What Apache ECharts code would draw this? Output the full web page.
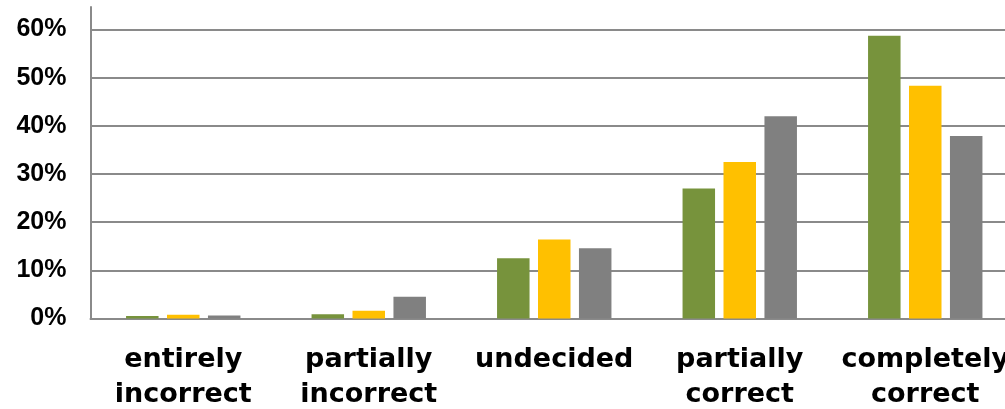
<!DOCTYPE html>
<html>
<head>
<meta charset="utf-8">
<script src="https://cdn.jsdelivr.net/npm/echarts@6/dist/echarts.min.js"></script>
<style>
html,body{margin:0;padding:0;background:#fff;}
#chart{width:1005px;height:409px;}
</style>
</head>
<body>
<div id="chart"></div>
<script>
const categories = ['entirely\nincorrect', 'partially\nincorrect', 'undecided', 'partially\ncorrect', 'completely\ncorrect'];
const seriesGreen = [0.5, 0.9, 12.5, 27.0, 58.7];
const seriesYellow = [0.8, 1.6, 16.4, 32.5, 48.3];
const seriesGray = [0.6, 4.5, 14.6, 42.0, 37.9];
const yTicks = { min: 0, max: 60, interval: 10 };

const chart = echarts.init(document.getElementById('chart'), null, { renderer: 'canvas' });
const fontY = '"Liberation Sans", Arial, sans-serif';
const fontX = '"DejaVu Sans", "Liberation Sans", sans-serif';
const gridColor = '#8a8a8a';

const option = {
  animation: false,
  backgroundColor: '#ffffff',
  grid: [
    { left: 90.5, width: 927.5, top: 29.5, bottom: 90.5, containLabel: false, outerBoundsMode: 'none' },
    { left: 90.5, width: 927.5, top: 7, bottom: 90.5, containLabel: false, outerBoundsMode: 'none' }
  ],
  xAxis: [
    {
      type: 'category',
      gridIndex: 0,
      data: categories,
      axisLine: { show: true, lineStyle: { color: gridColor, width: 2 } },
      axisTick: { show: false },
      axisLabel: {
        color: '#000',
        fontFamily: fontX,
        fontWeight: 'bold',
        fontSize: 27,
        lineHeight: 35,
        margin: 24,
        interval: 0,
        hideOverlap: false
      }
    },
    { type: 'category', gridIndex: 1, data: categories, show: false }
  ],
  yAxis: [
    {
      type: 'value',
      gridIndex: 0,
      min: yTicks.min,
      max: yTicks.max,
      interval: yTicks.interval,
      axisLine: { show: false },
      axisTick: { show: false },
      splitLine: { show: true, lineStyle: { color: gridColor, width: 2 } },
      axisLabel: {
        formatter: '{value}%',
        color: '#000',
        fontFamily: fontY,
        fontWeight: 'bold',
        fontSize: 25,
        margin: 24
      }
    },
    {
      type: 'value',
      gridIndex: 1,
      min: 0,
      max: 1,
      axisLine: { show: true, lineStyle: { color: gridColor, width: 2 } },
      axisTick: { show: false },
      axisLabel: { show: false },
      splitLine: { show: false }
    }
  ],
  series: [
    { type: 'bar', name: 'A', data: seriesGreen, barWidth: 32.5, barGap: '26%', itemStyle: { color: '#77933C' } },
    { type: 'bar', name: 'B', data: seriesYellow, barWidth: 32.5, barGap: '26%', itemStyle: { color: '#FFC000' } },
    { type: 'bar', name: 'C', data: seriesGray, barWidth: 32.5, barGap: '26%', itemStyle: { color: '#808080' } }
  ]
};
chart.setOption(option);
</script>
</body>
</html>
